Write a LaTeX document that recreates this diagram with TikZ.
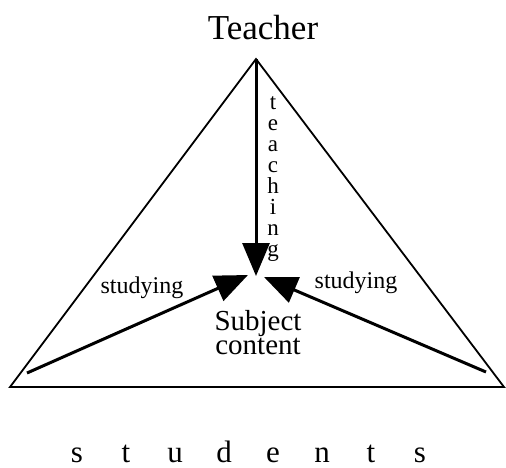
\documentclass[tikz,border=0pt]{standalone}
\usepackage{fontspec}
\setmainfont{Liberation Serif}
\usetikzlibrary{arrows.meta}
\begin{document}
\begin{tikzpicture}[x=1pt,y=-1pt,
  side/.style={line width=1.8pt, line join=miter},
  flow/.style={line width=3pt, -{Triangle[length=33pt,width=27pt]}},
  lbl/.style={inner sep=0pt, anchor=base}]
\useasboundingbox (0,0) rectangle (506,467);
\coordinate (apex) at (256,59);
\coordinate (bl) at (10,387);
\coordinate (br) at (504,387);
\coordinate (tipT) at (256,276);
\coordinate (tipL) at (248,275);
\coordinate (tipR) at (264,277);
\coordinate (startL) at (27,373);
\coordinate (startR) at (486,372);
\draw[side] (apex) -- (bl) -- (br) -- cycle;
\draw[flow] (apex) -- (tipT);
\draw[flow] (startL) -- (tipL);
\draw[flow] (startR) -- (tipR);
\node[lbl] (teacher) at (263,39) {\fontsize{35}{35}\selectfont Teacher};
\node[lbl] (studyL) at (142,293) {\fontsize{24}{24}\selectfont studying};
\node[lbl] (studyR) at (356,288) {\fontsize{24}{24}\selectfont studying};
\node[inner sep=0pt, anchor=base, align=center, font=\fontsize{29}{24}\selectfont] (subj) at (258,354) {Subject\\content};
\foreach \ch [count=\i] in {t,e,a,c,h,i,n,g}
  \node[lbl] (teach\i) at (273,88+21*\i) {\fontsize{23}{23}\selectfont \ch};
\foreach \ch [count=\i] in {s,t,u,d,e,n,t,s}
  \node[lbl, text depth=0pt] (stud\i) at (28+49*\i,462) {\fontsize{31}{31}\selectfont \ch};
\end{tikzpicture}
\end{document}
